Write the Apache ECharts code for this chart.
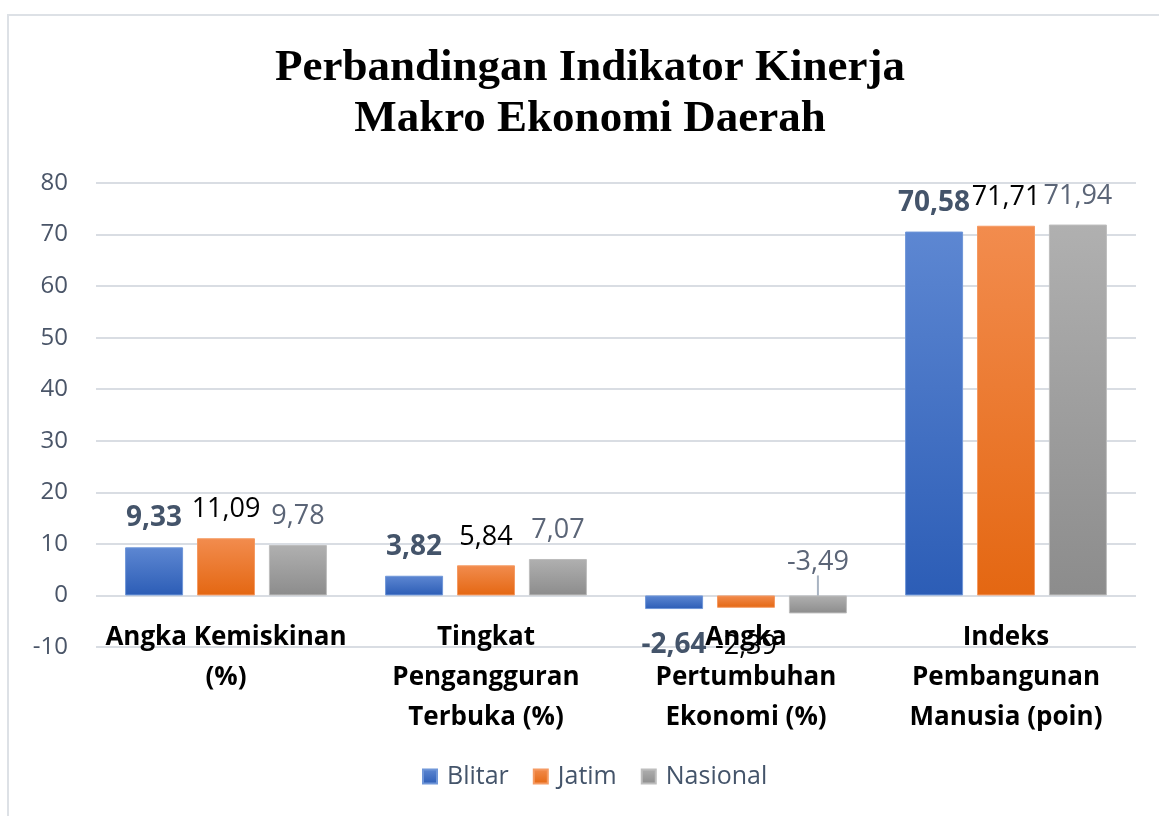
<!DOCTYPE html>
<html><head><meta charset="utf-8">
<script src="https://cdn.jsdelivr.net/npm/echarts@6/dist/echarts.min.js"></script>
<style>html,body{margin:0;padding:0;background:#fff}#c{width:1159px;height:816px}</style>
</head><body><div id="c"></div>
<script>
const categories = ['Angka Kemiskinan\n(%)', 'Tingkat\nPengangguran\nTerbuka (%)', 'Angka\nPertumbuhan\nEkonomi (%)', 'Indeks\nPembangunan\nManusia (poin)'];
const blitar = [9.33, 3.82, -2.64, 70.58];
const jatim = [11.09, 5.84, -2.39, 71.71];
const nasional = [9.78, 7.07, -3.49, 71.94];
const seriesNames = ['Blitar', 'Jatim', 'Nasional'];
const yTicks = {min: -10, max: 80, interval: 10};

const fmt = v => String(v.toFixed(2)).replace('.', ',');
function grad(top, bottom){
  return new echarts.graphic.LinearGradient(0,0,0,1,[{offset:0,color:top},{offset:1,color:bottom}]);
}
const lblFont = "'Open Sans', sans-serif";
function mkSeries(name, data, colors, labelStyle, negItem){
  return {
    name, type: 'bar', barWidth: 58, barGap: '24%',
    itemStyle: {color: grad(colors[0], colors[1]), borderColor: colors[2], borderWidth: 1},
    label: Object.assign({show: true, position: 'top', distance: 15, fontFamily: lblFont, fontSize: 27,
      formatter: p => fmt(p.value)}, labelStyle),
    labelLine: {show: false},
    data: data.map(v => v < 0 ? Object.assign({value: v}, negItem) : v)
  };
}
const chart = echarts.init(document.getElementById('c'));
chart.setOption({
  animation: false,
  title: {text: 'Perbandingan Indikator Kinerja\nMakro Ekonomi Daerah', left: 585, textAlign: 'center', top: 38,
    textStyle: {fontFamily: "'Liberation Serif', serif", fontWeight: 'bold', fontSize: 45, lineHeight: 51, color: '#000'}},
  graphic: [{type: 'rect', shape: {x: 8, y: 15, width: 1170, height: 820}, style: {fill: 'none', stroke: '#dde1e6', lineWidth: 2}, silent: true}],
  legend: {bottom: 22, left: 417, itemWidth: 14, itemHeight: 14, itemGap: 24, icon: 'rect',
    textStyle: {fontFamily: lblFont, fontSize: 25, color: '#44546a', padding: [0, 0, 0, 5]}, data: seriesNames},
  grid: {left: 96, right: 23, top: 183, bottom: 169, containLabel: false},
  xAxis: {type: 'category', data: categories,
    axisLine: {show: false}, axisTick: {show: false},
    axisLabel: {interval: 0, margin: -29, fontFamily: lblFont, fontWeight: 'bold', fontSize: 26, lineHeight: 40, color: '#000'}},
  yAxis: {type: 'value', min: yTicks.min, max: yTicks.max, interval: yTicks.interval,
    axisLine: {show: false}, axisTick: {show: false},
    axisLabel: {fontFamily: lblFont, fontSize: 24, color: '#4a5568', margin: 28},
    splitLine: {lineStyle: {color: '#d9dde3', width: 2}}},
  series: [
    mkSeries(seriesNames[0], blitar, ['#5d87d2', '#2c5db6', '#6f96d8'], {fontWeight: 'bold', color: '#44546a', fontSize: 28}, {label: {position: 'bottom', distance: 22}}),
    mkSeries(seriesNames[1], jatim, ['#f28c4e', '#e46712', '#f59a62'], {color: '#000'}, {label: {position: 'bottom', distance: 25}}),
    Object.assign(mkSeries(seriesNames[2], nasional, ['#b0b0b0', '#8c8c8c', '#bdbdbd'], {color: '#5b6577'},
      {label: {position: 'top', distance: 19}, labelLine: {show: true, lineStyle: {color: '#a9b4c2', width: 2}}}),
      {labelLayout: p => p.dataIndex === 2 ? {dy: -1} : null})
  ]
});
</script></body></html>
